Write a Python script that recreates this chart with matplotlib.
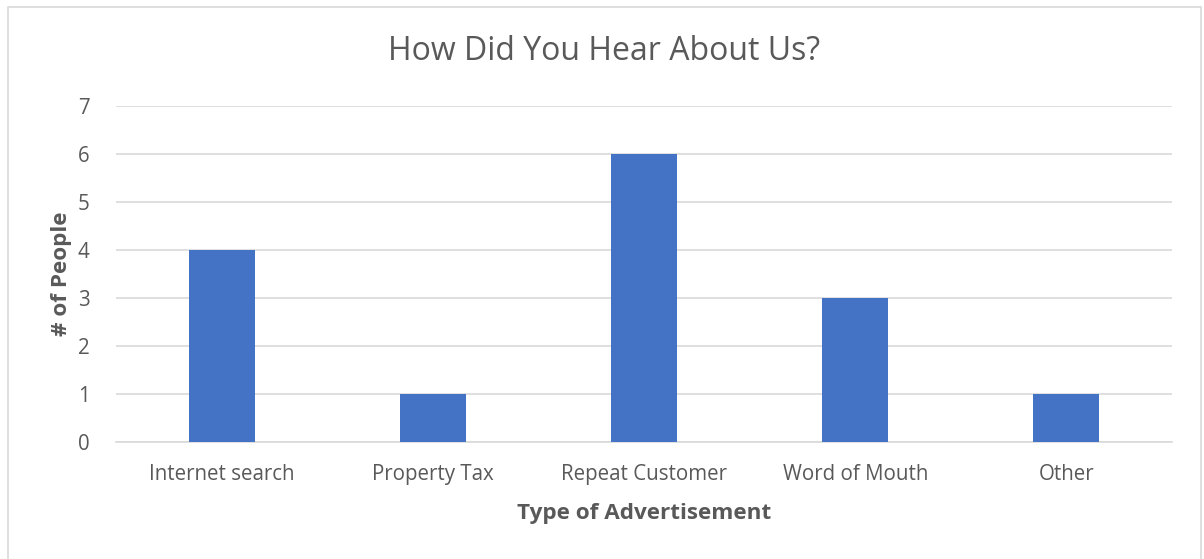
import matplotlib
matplotlib.use("Agg")
import matplotlib.pyplot as plt
from matplotlib.patches import Rectangle

categories = ["Internet search", "Property Tax", "Repeat Customer", "Word of Mouth", "Other"]
people = [4, 1, 6, 3, 1]
y_ticks = [0, 1, 2, 3, 4, 5, 6, 7]

title = "How Did You Hear About Us?"
x_label = "Type of Advertisement"
y_label = "# of People"

W, H = 1204, 559
fig = plt.figure(figsize=(W / 100, H / 100), dpi=100)
plt.rcParams["font.family"] = ["Open Sans", "DejaVu Sans"]

text_color = "#595959"
grid_color = "#d9d9d9"
bar_color = "#4472C4"

# outer chart border
fig.patches.append(Rectangle((8 / W, -0.01), (1201 - 8) / W, 1 - 7 / H + 0.01,
                             transform=fig.transFigure, fill=False,
                             edgecolor="#d9d9d9", linewidth=1.2))

left, right = 116 / W, 1172 / W
bottom, top = 1 - 442 / H, 1 - 106 / H
ax = fig.add_axes([left, bottom, right - left, top - bottom])

x = range(len(categories))
ax.bar(x, people, width=0.313, color=bar_color, zorder=3)

ax.set_xlim(-0.5, len(categories) - 0.5)
ax.set_ylim(0, 7)
ax.set_yticks(y_ticks)
ax.set_xticks(list(x))
ax.set_xticklabels(categories)
ax.tick_params(axis="both", length=0, labelsize=14.8, colors=text_color)
ax.tick_params(axis="y", pad=19)
ax.tick_params(axis="x", pad=16)

ax.grid(axis="y", color=grid_color, linewidth=1.2, zorder=0)
for s in ["top", "right", "left"]:
    ax.spines[s].set_visible(False)
ax.spines["bottom"].set_color(grid_color)
ax.spines["bottom"].set_linewidth(1.2)

fig.text(604 / W, 1 - 52 / H, title, ha="center", va="center",
         fontsize=23, color=text_color)
fig.text(0.5 * (left + right), 1 - 513 / H, x_label, ha="center", va="center",
         fontsize=16.2, fontweight="bold", color=text_color)
fig.text(62 / W, 0.5 * (bottom + top), y_label, ha="center", va="center",
         rotation=90, fontsize=16.2, fontweight="bold", color=text_color)

fig.savefig("out.png", dpi=100, facecolor="white")
